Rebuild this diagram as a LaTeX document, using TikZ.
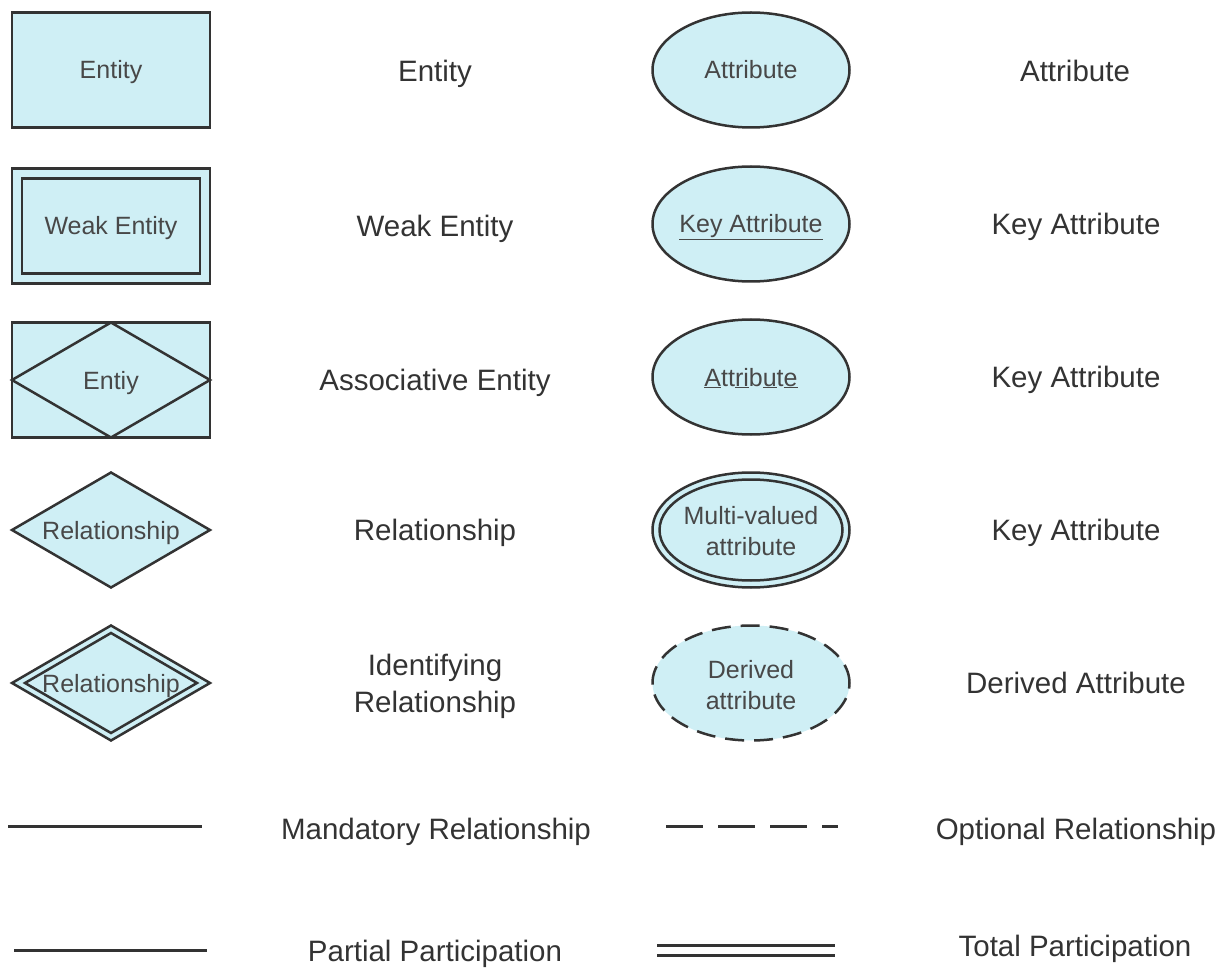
\documentclass[tikz,border=0pt]{standalone}
\usepackage{fontspec}
\setmainfont{Liberation Sans}
\usetikzlibrary{shapes.geometric}
\definecolor{erfill}{RGB}{207,239,245}
\definecolor{erline}{RGB}{51,51,51}
\definecolor{intext}{RGB}{72,72,72}
\definecolor{labtext}{RGB}{51,51,51}
\tikzset{
  shp/.style={draw=erline, fill=erfill, line width=2.5pt, inner sep=0pt, outer sep=0pt},
  inshp/.style={draw=erline, line width=2.5pt, inner sep=0pt, outer sep=0pt},
  box/.style={shp, rectangle, minimum width=198pt, minimum height=115pt},
  ell/.style={shp, ellipse, minimum width=197pt, minimum height=115pt},
  dia/.style={shp, diamond, minimum width=198pt, minimum height=115pt},
  intxt/.style={font=\fontsize{25}{31}\selectfont, text=intext, inner sep=0pt, text height=18pt, text depth=0pt},
  inmulti/.style={font=\fontsize{25}{31}\selectfont, text=intext, align=center, inner sep=0pt},
  labtxt/.style={font=\fontsize{29.5}{37}\selectfont, text=labtext, inner sep=0pt, text height=21pt, text depth=0pt},
  labmulti/.style={font=\fontsize{29.5}{37}\selectfont, text=labtext, align=center, inner sep=0pt},
  conn/.style={draw=erline, line width=3pt},
}
\begin{document}
\begin{tikzpicture}[x=1pt,y=-1pt]
\useasboundingbox (0,0) rectangle (1232,968);
% Row 1
\node[box] (ent) at (111,70) {};
\node[intxt] (entT) at (ent.center) {Entity};
\node[labtxt] (entL) at (435,71) {Entity};
\node[ell] (att) at (751,70) {};
\node[intxt] (attT) at (att.center) {Attribute};
\node[labtxt] (attL) at (1075,71) {Attribute};
% Row 2
\node[box] (weak) at (111,226) {};
\node[inshp, rectangle, minimum width=178pt, minimum height=95pt] (weakIn) at (weak.center) {};
\node[intxt] (weakT) at (weak.center) {Weak Entity};
\node[labtxt] (weakL) at (435,226) {Weak Entity};
\node[ell] (key) at (751,224) {};
\node[intxt] (keyT) at (key.center) {\underline{Key Attribute}};
\node[labtxt] (keyL) at (1076,224) {Key Attribute};
% Row 3
\node[box] (assoc) at (111,380) {};
\node[inshp, diamond, minimum width=198pt, minimum height=115pt] (assocD) at (assoc.center) {};
\node[intxt] (assocT) at (assoc.center) {Entiy};
\node[labtxt] (assocL) at (435,380) {Associative Entity};
\node[ell] (pkey) at (751,377) {};
\node[intxt] (pkeyT) at (pkey.center) {\underline{A}tt\underline{ri}b\underline{u}t\underline{e}};
\node[labtxt] (pkeyL) at (1076,377) {Key Attribute};
% Row 4
\node[dia] (rel) at (111,530) {};
\node[intxt] (relT) at (rel.center) {Relationship};
\node[labtxt] (relL) at (435,530) {Relationship};
\node[ell] (multi) at (751,530) {};
\node[inshp, ellipse, minimum width=183pt, minimum height=101pt] (multiIn) at (multi.center) {};
\node[inmulti] (multiT) at (751,531) {Multi-valued\\attribute};
\node[labtxt] (multiL) at (1076,530) {Key Attribute};
% Row 5
\node[dia] (irel) at (111,683) {};
\node[inshp, diamond, minimum width=172pt, minimum height=100pt] (irelIn) at (irel.center) {};
\node[intxt] (irelT) at (irel.center) {Relationship};
\node[labmulti] (irelL) at (435,686) {Identifying\\Relationship};
\node[ell, dash pattern=on 19pt off 10pt] (der) at (751,683) {};
\node[inmulti] (derT) at (751,685) {Derived\\attribute};
\node[labtxt] (derL) at (1076,683) {Derived Attribute};
% Row 6
\coordinate (m1) at (8,826);
\coordinate (m2) at (202,826);
\draw[conn] (m1) -- (m2);
\node[labtxt] (mandL) at (436,829) {Mandatory Relationship};
\coordinate (o1) at (666,826);
\coordinate (o2) at (838,826);
\draw[conn, dash pattern=on 37pt off 15pt] (o1) -- (o2);
\node[labtxt] (optL) at (1076,829) {Optional Relationship};
% Row 7
\coordinate (p1) at (14,950);
\coordinate (p2) at (207,950);
\draw[conn] (p1) -- (p2);
\node[labtxt] (partL) at (435,951) {Partial Participation};
\coordinate (t1) at (657,945);
\coordinate (t2) at (835,945);
\coordinate (t3) at (657,955);
\coordinate (t4) at (835,955);
\draw[conn] (t1) -- (t2);
\draw[conn] (t3) -- (t4);
\node[labtxt] (totL) at (1075,946) {Total Participation};
\end{tikzpicture}
\end{document}
